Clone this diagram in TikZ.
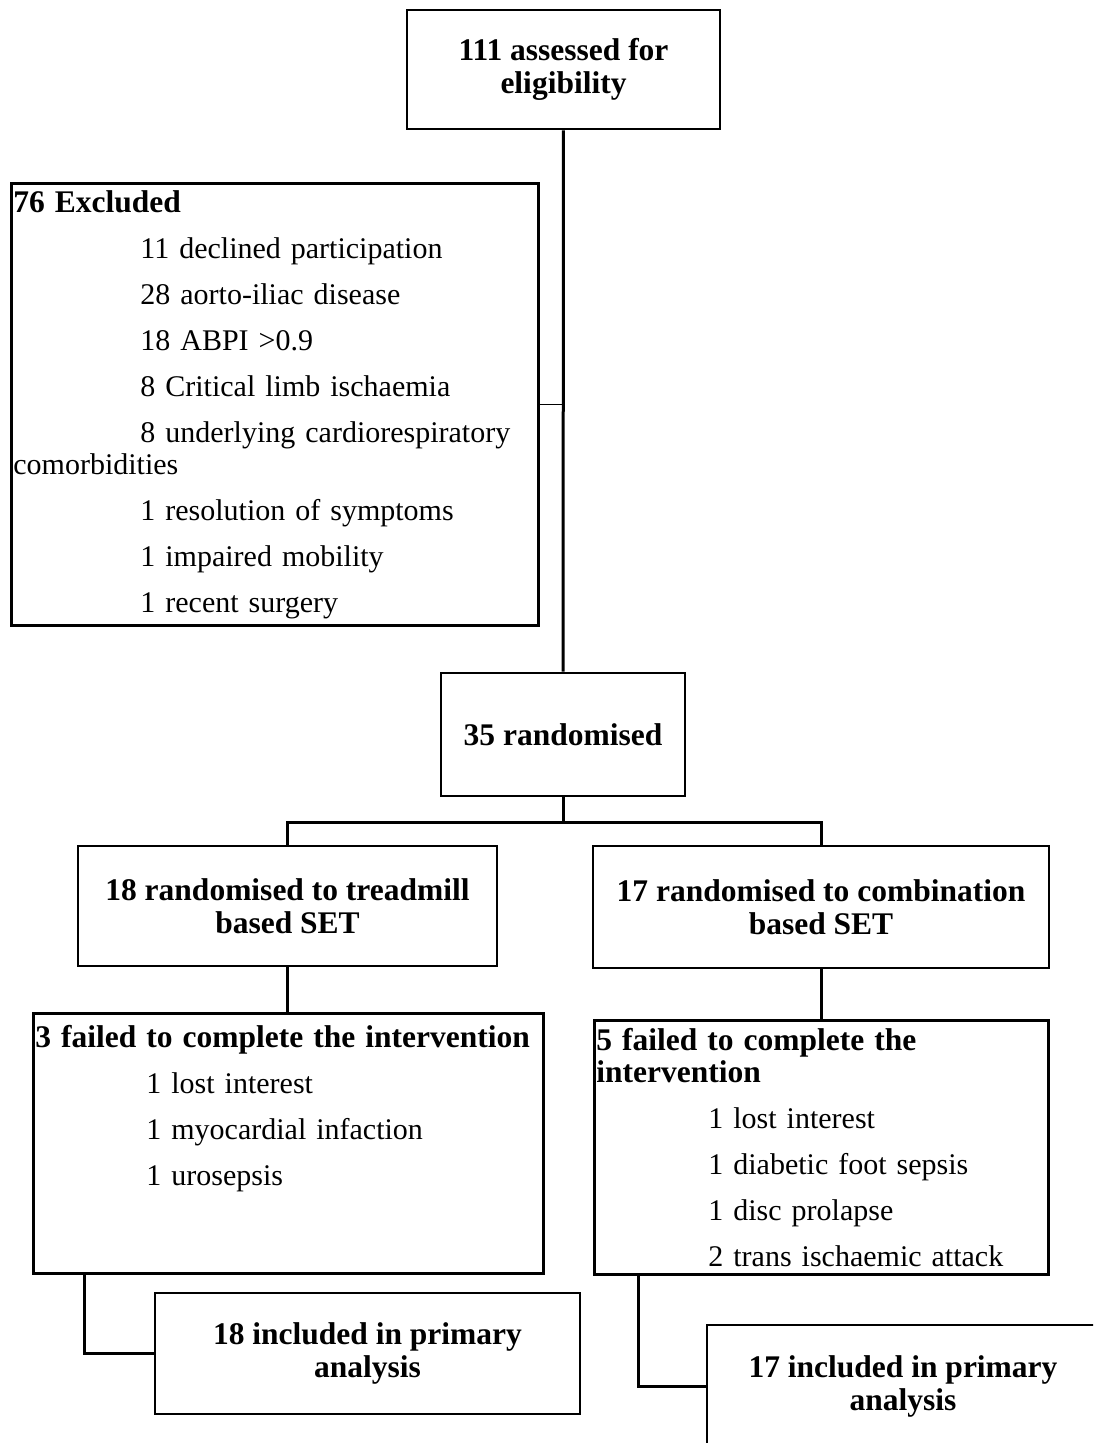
\documentclass[tikz,border=0pt]{standalone}
\usepackage{fontspec}
\setmainfont{Liberation Serif}
\usetikzlibrary{positioning}
\newcommand{\listhead}[1]{{\fontsize{31.5}{46}\selectfont\bfseries #1}}

\begin{document}
\begin{tikzpicture}[x=1pt, y=-1pt,
	flowbox/.style={draw, line width=2.8pt, inner xsep=2pt, inner ysep=0pt},
	headbox/.style={flowbox, align=center, font=\fontsize{31.5}{33}\selectfont\bfseries},
	listbox/.style={flowbox, align=left, font=\fontsize{30}{46}\selectfont},
	link/.style={line width=3pt}]
	\clip (0,0) rectangle (1093,1443);
	% Screening
	\node[headbox, minimum width=313pt, minimum height=119pt] (assess) at (563.5,69.5) {111 assessed for\\eligibility};
	\node[listbox, anchor=north west, minimum width=527pt, minimum height=442pt, text width=523pt] (excl) at (10,182) {\listhead{76 Excluded}\\
		\hspace*{127pt}11 declined participation\\
		\hspace*{127pt}28 aorto-iliac disease\\
		\hspace*{127pt}18 ABPI >0.9\\
		\hspace*{127pt}8 Critical limb ischaemia\\
		\hspace*{127pt}8 underlying cardiorespiratory\\[-14pt]
		comorbidities\\
		\hspace*{127pt}1 resolution of symptoms\\
		\hspace*{127pt}1 impaired mobility\\
		\hspace*{127pt}1 recent surgery};
	\node[headbox, minimum width=244pt, minimum height=123pt] (rand) at (563,734.5) {35 randomised};
	% Arms
	\node[headbox, minimum width=419pt, minimum height=120pt] (tread) at (287.5,906) {18 randomised to treadmill\\based SET};
	\node[headbox, minimum width=456pt, minimum height=122pt] (comb) at (821,907) {17 randomised to combination\\based SET};
	\node[listbox, anchor=north west, minimum width=510pt, minimum height=260pt, text width=506pt] (fail1) at (32,1012) {\listhead{3 failed to complete the intervention}\\
		\hspace*{111pt}1 lost interest\\
		\hspace*{111pt}1 myocardial infaction\\
		\hspace*{111pt}1 urosepsis\\[30pt]
		\mbox{}};
	\node[listbox, anchor=north west, minimum width=454pt, minimum height=254pt, text width=450pt] (fail2) at (593,1019) {\listhead{5 failed to complete the}\\[-14pt]
		\listhead{intervention}\\
		\hspace*{112pt}1 lost interest\\
		\hspace*{112pt}1 diabetic foot sepsis\\
		\hspace*{112pt}1 disc prolapse\\
		\hspace*{112pt}2 trans ischaemic attack};
	% Analysis
	\node[headbox, minimum width=425pt, minimum height=121pt] (incl1) at (367.5,1353.5) {18 included in primary\\analysis};
	\node[headbox, minimum width=392pt, minimum height=122pt] (incl2) at (903,1386) {17 included in primary\\analysis};
	
	% Connectors
	\coordinate (split) at (563,822);
	\draw[link] (assess) -- (rand);
	\draw[line width=1.3pt] (excl.east) -- (excl.east -| assess.south);
	\draw[link] (rand) -- (split);
	\draw[link] (tread.north) |- (split) -| (comb.north);
	\draw[link] (tread.south) -- (tread.south |- fail1.north);
	\draw[link] (comb.south) -- (comb.south |- fail2.north);
	\draw[link] ([xshift=52pt]fail1.south west) |- (incl1.west);
	\draw[link] ([xshift=45pt]fail2.south west) |- (incl2.west);
\end{tikzpicture}
\end{document}
